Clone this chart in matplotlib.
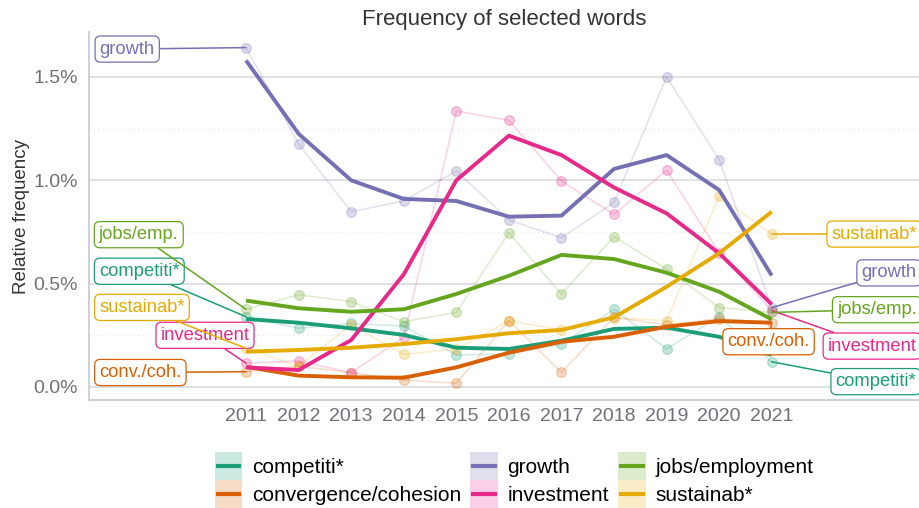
import matplotlib
matplotlib.use("Agg")
import matplotlib.pyplot as plt
from matplotlib.patches import Rectangle
from matplotlib.lines import Line2D
from matplotlib.legend_handler import HandlerBase

plt.rcParams['font.family'] = ['Liberation Sans', 'DejaVu Sans']

# ----------------- DATA (relative frequency, %) -----------------
years = list(range(2011, 2022))

series_names = ["competiti*", "convergence/cohesion", "growth",
                "investment", "jobs/employment", "sustainab*"]
short_names = ["competiti*", "conv./coh.", "growth",
               "investment", "jobs/emp.", "sustainab*"]
colors = ["#1B9E77", "#D95F02", "#7570B3", "#E7298A", "#66A61E", "#E6AB02"]

competiti_raw = [0.340, 0.284, 0.308, 0.295, 0.155, 0.160, 0.207, 0.376, 0.184, 0.340, 0.122]
competiti_smooth = [0.329, 0.311, 0.284, 0.252, 0.190, 0.184, 0.224, 0.281, 0.287, 0.243, 0.155]

conv_raw = [0.074, 0.100, 0.070, 0.034, 0.018, 0.321, 0.071, 0.337, 0.300, 0.330, 0.311]
conv_smooth = [0.098, 0.055, 0.047, 0.045, 0.095, 0.166, 0.219, 0.243, 0.292, 0.319, 0.311]

growth_raw = [1.642, 1.176, 0.848, 0.900, 1.045, 0.808, 0.722, 0.893, 1.500, 1.100, 0.384]
growth_smooth = [1.580, 1.225, 1.000, 0.910, 0.900, 0.824, 0.829, 1.055, 1.122, 0.953, 0.539]

investment_raw = [0.115, 0.126, 0.069, 0.240, 1.335, 1.290, 0.997, 0.835, 1.048, 0.650, 0.370]
investment_smooth = [0.095, 0.082, 0.227, 0.545, 1.000, 1.216, 1.122, 0.965, 0.840, 0.647, 0.400]

jobs_raw = [0.376, 0.446, 0.413, 0.316, 0.361, 0.746, 0.450, 0.727, 0.571, 0.384, 0.361]
jobs_smooth = [0.418, 0.381, 0.364, 0.376, 0.450, 0.538, 0.639, 0.619, 0.553, 0.461, 0.327]

sustainab_raw = [0.187, 0.100, 0.300, 0.158, 0.184, 0.320, 0.276, 0.335, 0.321, 0.924, 0.740]
sustainab_smooth = [0.171, 0.179, 0.190, 0.208, 0.231, 0.260, 0.276, 0.337, 0.485, 0.647, 0.848]

raw = [competiti_raw, conv_raw, growth_raw, investment_raw, jobs_raw, sustainab_raw]
smooth = [competiti_smooth, conv_smooth, growth_smooth, investment_smooth,
          jobs_smooth, sustainab_smooth]

# label positions (x in years, y in %) for left (2011) and right (2021) labels
left_label_x = [2008.97, 2008.99, 2008.74, 2010.22, 2008.96, 2009.02]
left_label_y = [0.560, 0.070, 1.635, 0.250, 0.737, 0.385]
right_label_x = [2022.98, 2020.94, 2023.23, 2022.91, 2023.00, 2022.95]
right_label_y = [0.026, 0.219, 0.552, 0.198, 0.374, 0.740]
# ---------------------------------------------------------------


class KeyHandler(HandlerBase):
    """ggplot-like legend key: pale filled square with a short line."""
    def create_artists(self, legend, orig_handle, xdescent, ydescent,
                       width, height, fontsize, trans):
        c = orig_handle.get_color()
        box = Rectangle((-xdescent, -ydescent), width, height,
                        facecolor=c, alpha=0.22, edgecolor='none',
                        transform=trans)
        ym = -ydescent + height / 2
        inset = width * 0.11
        line = Line2D([-xdescent + inset, -xdescent + width - inset], [ym, ym],
                      color=c, lw=3, transform=trans)
        return [box, line]


fig = plt.figure(figsize=(9.2, 5.08), dpi=100)
ax = fig.add_axes([89 / 920, 1 - 400 / 508, 1 - 89 / 920, (400 - 32) / 508])

for r, c in zip(raw, colors):
    ax.plot(years, r, color=c, lw=1.2, alpha=0.2, zorder=2)
    ax.plot(years, r, 'o', color=c, ms=7, alpha=0.25, mec=c, zorder=2)
for s, c in zip(smooth, colors):
    ax.plot(years, s, color=c, lw=2.8, solid_capstyle='butt', zorder=3)


def label(text, xy, xytext, c):
    ax.annotate(text, xy=xy, xytext=xytext, ha='center', va='center',
                fontsize=13.2, color=c, annotation_clip=False, zorder=5,
                bbox=dict(boxstyle='round,pad=0.25,rounding_size=0.3',
                          fc='white', ec=c, lw=0.9),
                arrowprops=dict(arrowstyle='-', color=c, lw=1.1,
                                shrinkA=0, shrinkB=0))


for i, c in enumerate(colors):
    label(short_names[i], (years[0], raw[i][0]),
          (left_label_x[i], left_label_y[i]), c)
    label(short_names[i], (years[-1], raw[i][-1]),
          (right_label_x[i], right_label_y[i]), c)

ax.set_xlim(2008.013, 2023.82)
ax.set_ylim(-0.0629, 1.7175)
ax.set_xticks(years)
ax.set_yticks([0, 0.5, 1.0, 1.5])
ax.set_yticklabels([f"{v:.1f}%" for v in [0, 0.5, 1.0, 1.5]])
ax.set_yticks([0.25, 0.75, 1.25], minor=True)
ax.tick_params(axis='both', length=0, labelsize=14, colors='#707078')
ax.tick_params(axis='x', pad=6)
ax.tick_params(axis='y', pad=8)
ax.tick_params(which='minor', length=0)

ax.grid(axis='y', which='major', color='#dcdee5', lw=1.3, zorder=0)
ax.grid(axis='y', which='minor', color='#e2e4ea', lw=0.8, ls=(0, (1, 3)), zorder=0)
ax.set_axisbelow(True)
for side in ['top', 'right']:
    ax.spines[side].set_visible(False)
for side in ['left', 'bottom']:
    ax.spines[side].set_color('#c8cdd8')
    ax.spines[side].set_linewidth(1.3)

fig.text((89 + 920) / 2 / 920, 1 - 20 / 508, "Frequency of selected words",
         ha='center', va='center', fontsize=16, color='#333333')
fig.text(22 / 920, 1 - 216 / 508, "Relative frequency", rotation=90,
         ha='center', va='center', fontsize=13.5, color='#333333')

handles = [Line2D([], [], color=c) for c in colors]
fig.legend(handles, series_names, loc='lower center',
           bbox_to_anchor=(514 / 920, 0.0), ncol=3, fontsize=15,
           frameon=False, handlelength=1.33, handleheight=1.7,
           labelspacing=0.0, columnspacing=0.45, handletextpad=0.45,
           borderpad=0.0, borderaxespad=0.0,
           handler_map={Line2D: KeyHandler()})

fig.savefig("out.png", dpi=100)
